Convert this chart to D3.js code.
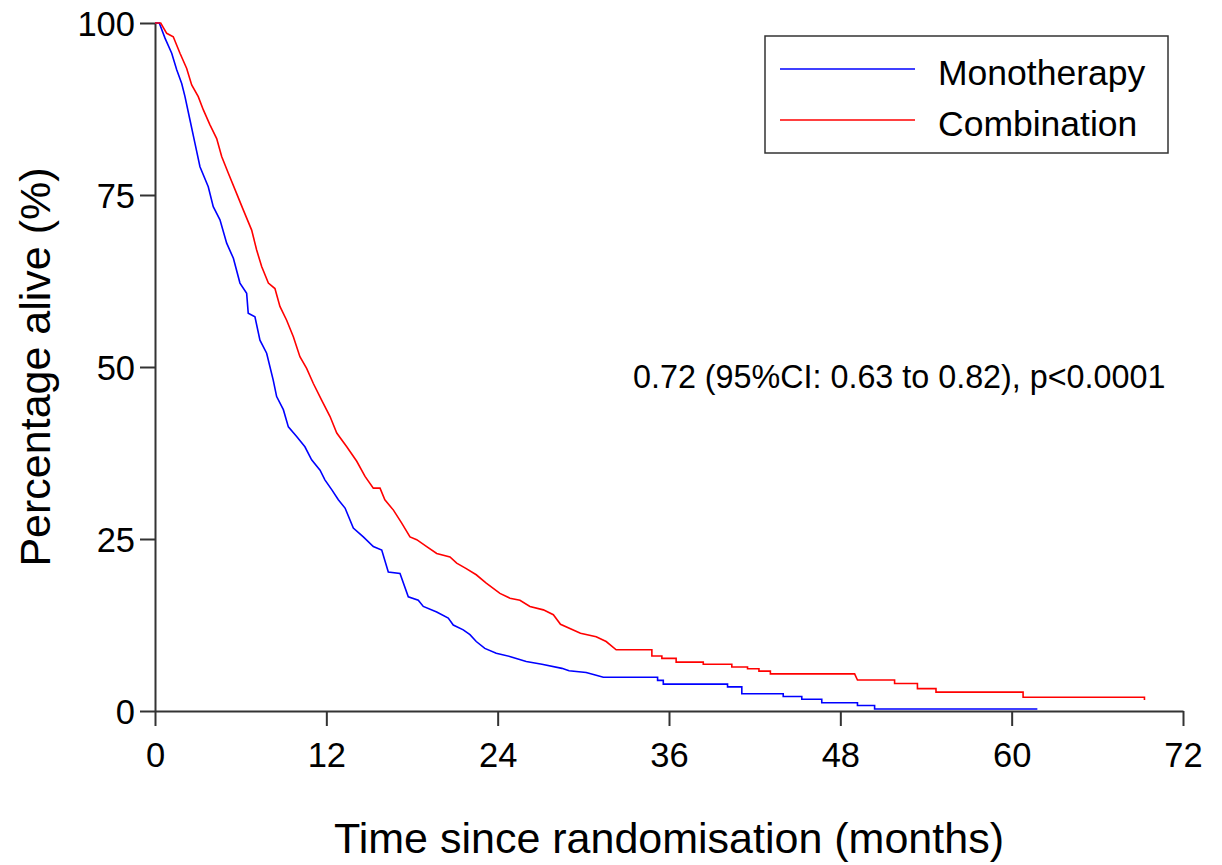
<!DOCTYPE html>
<html>
<head>
<meta charset="utf-8">
<script src="https://cdn.jsdelivr.net/npm/d3@7"></script>
<style>
  body { margin: 0; background: #fff; }
  svg { display: block; font-family: 'Liberation Sans', Arial, sans-serif; }
</style>
</head>
<body>
<svg id="chart" width="1222" height="865"></svg>
<script>
// Kaplan-Meier curves (months, % alive)
const monoTime = [0, 0.3, 0.7, 1.17, 1.52, 1.87, 2.1, 2.45, 2.8, 3.15, 3.73, 4.08, 4.55, 5.02, 5.49, 5.95,
  6.42, 6.53, 7.0, 7.35, 7.82, 8.28, 8.52, 8.99, 9.34, 9.92, 10.5, 10.97, 11.56, 11.9, 12.4, 12.84, 13.31,
  13.89, 14.59, 15.29, 15.88, 16.34, 17.16, 17.74, 18.44, 18.79, 19.73, 20.54, 20.89, 21.59, 22.06, 22.5,
  23.1, 23.9, 24.9, 26.0, 27.1, 28.5, 29.0, 30.2, 30.9, 31.4, 35.2, 35.2, 35.6, 35.6, 40.1, 40.1, 41.1,
  41.1, 44.0, 44.0, 45.3, 45.3, 46.7, 46.7, 49.2, 49.2, 50.4, 50.4, 61.8];
const monoSurv = [100, 100, 97.8, 95.6, 93.2, 91.2, 89.3, 85.9, 82.5, 79.1, 76.2, 73.3, 71.4, 68.0, 65.8, 62.2,
  60.7, 57.8, 57.3, 53.9, 52.0, 48.1, 45.7, 43.8, 41.3, 39.9, 38.4, 36.5, 35.0, 33.6, 32.1, 30.7, 29.5,
  26.6, 25.3, 23.9, 23.4, 20.2, 20.0, 16.6, 16.1, 15.2, 14.4, 13.5, 12.5, 11.8, 11.1, 10.1,
  9.1, 8.4, 7.9, 7.2, 6.8, 6.2, 5.85, 5.6, 5.2, 4.9, 4.9, 4.45, 4.45, 3.9, 3.9, 3.5, 3.5,
  2.5, 2.5, 2.1, 2.1, 1.7, 1.7, 1.2, 1.2, 0.8, 0.8, 0.3, 0.3];

const comboTime = [0, 0.4, 0.82, 1.28, 1.75, 2.22, 2.57, 3.03, 3.38, 3.85, 4.32, 4.67, 5.13, 5.72, 6.19, 6.77,
  7.12, 7.47, 7.94, 8.4, 8.75, 9.22, 9.69, 10.15, 10.62, 11.09, 11.67, 12.26, 12.73, 13.43, 14.13, 14.71,
  15.29, 15.76, 16.1, 16.7, 17.28, 17.86, 18.33, 19.03, 19.73, 20.66, 21.13, 21.8, 22.5, 23.2, 24.16, 24.86,
  25.56, 26.26, 27.2, 27.9, 28.4, 29.8, 30.9, 31.6, 32.3, 34.8, 34.8, 35.5, 35.5, 36.5, 36.5, 38.4, 38.4,
  40.4, 40.4, 41.5, 41.5, 42.3, 42.3, 43.1, 43.1, 49.0, 49.2, 51.8, 51.8, 53.4, 53.4, 54.7, 54.7, 60.8,
  60.8, 69.3, 69.3];
const comboSurv = [100, 100, 98.5, 98.0, 95.6, 93.4, 91.0, 89.3, 87.4, 85.2, 83.2, 80.6, 78.2, 75.2, 72.8, 69.9,
  67.0, 64.6, 62.2, 61.4, 58.8, 56.8, 54.4, 51.5, 49.8, 47.6, 45.2, 42.8, 40.4, 38.4, 36.3, 34.1,
  32.4, 32.4, 30.7, 29.2, 27.3, 25.3, 24.9, 23.9, 22.9, 22.4, 21.5, 20.7, 19.8, 18.6, 17.1, 16.4,
  16.1, 15.2, 14.7, 14.0, 12.6, 11.3, 10.8, 10.1, 8.9, 8.9, 8.0, 8.0, 7.65, 7.65, 7.1, 7.1, 6.8,
  6.8, 6.4, 6.4, 6.15, 6.15, 5.8, 5.8, 5.4, 5.4, 4.5, 4.5, 4.0, 4.0, 3.25, 3.25, 2.75, 2.75,
  2.0, 2.0, 1.6];

const seriesNames = ['Monotherapy', 'Combination'];
const seriesColors = ['#0000ff', '#ff0000'];
const xTicks = [0, 12, 24, 36, 48, 60, 72];
const yTicks = [0, 25, 50, 75, 100];
const hrText = '0.72 (95%CI: 0.63 to 0.82), p<0.0001';

const svg = d3.select('#chart');
const margin = { left: 155, right: 1183, top: 23, bottom: 711 };

const x = d3.scaleLinear().domain([0, 72]).range([margin.left, margin.right]);
const y = d3.scaleLinear().domain([0, 100]).range([margin.bottom, margin.top]);

const axisColor = '#333';

// x axis
const gx = svg.append('g')
  .attr('transform', `translate(0,${margin.bottom})`)
  .call(d3.axisBottom(x).tickValues(xTicks).tickSize(15).tickSizeOuter(0).tickPadding(17));
// y axis
const gy = svg.append('g')
  .attr('transform', `translate(${margin.left},0)`)
  .call(d3.axisLeft(y).tickValues(yTicks).tickSize(15).tickSizeOuter(0).tickPadding(5));

[gx, gy].forEach(g => {
  g.select('.domain').attr('stroke', axisColor).attr('stroke-width', 2);
  g.selectAll('.tick line').attr('stroke', axisColor).attr('stroke-width', 2);
  g.selectAll('.tick text')
    .attr('fill', '#000')
    .style('font-size', '34.5px')
    .style('font-family', "'Liberation Sans', Arial, sans-serif");
});
gy.selectAll('.tick text').attr('dy', '0.36em');

// axis titles
svg.append('text')
  .attr('x', (margin.left + margin.right) / 2)
  .attr('y', 853)
  .attr('text-anchor', 'middle')
  .style('font-size', '43px')
  .text('Time since randomisation (months)');

svg.append('text')
  .attr('transform', `translate(50,${(margin.top + margin.bottom) / 2}) rotate(-90)`)
  .attr('text-anchor', 'middle')
  .style('font-size', '43px')
  .text('Percentage alive (%)');

// curves
const line = d3.line()
  .x(d => x(d[0]))
  .y(d => y(d[1]));

const curves = [
  d3.zip(monoTime, monoSurv),
  d3.zip(comboTime, comboSurv)
];

svg.append('g')
  .selectAll('path')
  .data(curves)
  .enter()
  .append('path')
  .attr('d', line)
  .attr('fill', 'none')
  .attr('stroke', (d, i) => seriesColors[i])
  .attr('stroke-width', 1.6)
  .attr('stroke-linejoin', 'miter');

// legend
const legend = svg.append('g');
legend.append('rect')
  .attr('x', 765).attr('y', 36)
  .attr('width', 403).attr('height', 117)
  .attr('fill', '#fff')
  .attr('stroke', axisColor)
  .attr('stroke-width', 1.5);

const items = legend.selectAll('g.item')
  .data(seriesNames)
  .enter()
  .append('g')
  .attr('class', 'item')
  .attr('transform', (d, i) => `translate(0,${69 + i * 51})`);

items.append('line')
  .attr('x1', 780).attr('x2', 915)
  .attr('stroke', (d, i) => seriesColors[i])
  .attr('stroke-width', 1.6);

items.append('text')
  .attr('x', 938)
  .attr('y', 15.5)
  .style('font-size', '35.5px')
  .text(d => d);

// hazard ratio annotation
svg.append('text')
  .attr('x', 633)
  .attr('y', 388)
  .style('font-size', '32.3px')
  .text(hrText);
</script>
</body>
</html>
